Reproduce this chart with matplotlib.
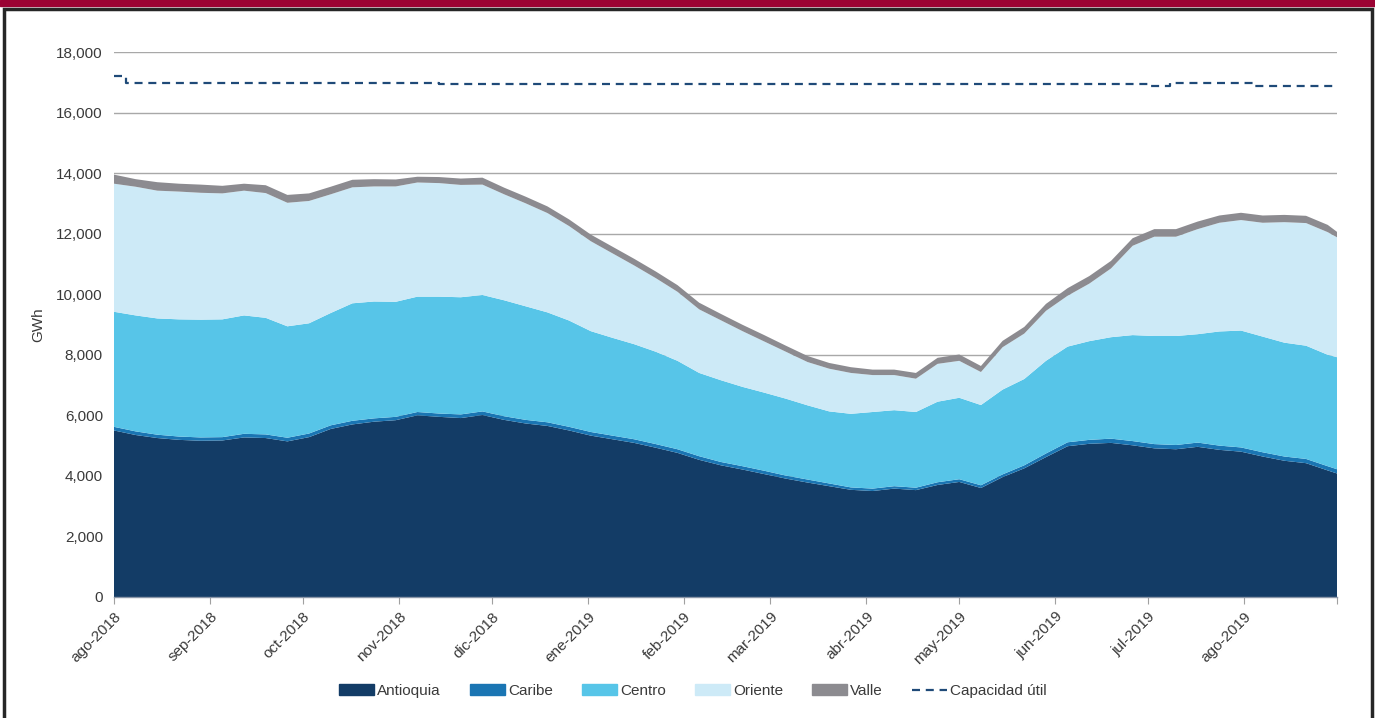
import numpy as np
import pandas as pd
import matplotlib
matplotlib.use("Agg")
import matplotlib.pyplot as plt
from matplotlib.patches import Rectangle
from matplotlib.lines import Line2D
from matplotlib.ticker import FuncFormatter

plt.rcParams['font.family'] = ['Liberation Sans', 'DejaVu Sans']

# weekly samples from 1-ago-2018, plus the last day
dates = list(pd.date_range('2018-08-01', periods=57, freq='7D')) + [pd.Timestamp('2019-08-31')]

antioquia = [5500, 5350, 5250, 5190, 5160, 5170, 5270, 5250, 5140, 5280,
             5550, 5700, 5790, 5840, 6000, 5950, 5910, 6010, 5850, 5730,
             5650, 5500, 5330, 5210, 5090, 4930, 4760, 4530, 4350, 4210,
             4060, 3910, 3780, 3660, 3540, 3500, 3580, 3530, 3700, 3800,
             3600, 3960, 4250, 4620, 4980, 5060, 5090, 5010, 4910, 4880,
             4960, 4860, 4800, 4640, 4500, 4420, 4180, 4080]
caribe = [120, 120, 110, 110, 110, 110, 120, 120, 120, 120,
          120, 120, 110, 110, 110, 110, 120, 120, 120, 120,
          120, 120, 120, 120, 120, 120, 120, 120, 110, 110,
          110, 100, 100, 90, 80, 80, 80, 80, 90, 90,
          90, 90, 100, 120, 130, 130, 140, 140, 140, 140,
          140, 140, 140, 140, 140, 140, 140, 140]
centro = [3800, 3830, 3840, 3870, 3890, 3890, 3910, 3850, 3680, 3640,
          3710, 3880, 3860, 3800, 3810, 3860, 3870, 3845, 3830, 3750,
          3630, 3510, 3330, 3230, 3140, 3050, 2920, 2750, 2700, 2620,
          2580, 2540, 2450, 2380, 2430, 2530, 2510, 2500, 2660, 2690,
          2650, 2800, 2850, 3060, 3160, 3260, 3350, 3500, 3570, 3600,
          3580, 3770, 3860, 3820, 3760, 3740, 3680, 3700]
oriente = [4230, 4250, 4220, 4220, 4190, 4160, 4120, 4120, 4080, 4040,
           3920, 3830, 3800, 3810, 3770, 3750, 3710, 3645, 3500, 3400,
           3280, 3120, 2970, 2790, 2600, 2430, 2280, 2100, 1980, 1840,
           1690, 1550, 1430, 1410, 1350, 1220, 1160, 1100, 1250, 1220,
           1090, 1400, 1500, 1650, 1680, 1900, 2270, 2950, 3280, 3280,
           3470, 3590, 3650, 3760, 3980, 4050, 4050, 3960]
valle = [300, 250, 280, 260, 270, 250, 230, 260, 260, 250,
         250, 250, 240, 230, 190, 200, 210, 230, 220, 220,
         220, 220, 220, 220, 220, 220, 220, 220, 210, 210,
         210, 200, 200, 190, 190, 180, 180, 190, 200, 210,
         200, 210, 220, 230, 250, 250, 250, 250, 250, 250,
         250, 240, 240, 240, 240, 240, 240, 180]

# capacidad util: change dates and values
cap_dates = pd.to_datetime(['2018-08-01', '2018-08-05', '2018-11-14', '2019-07-01',
                            '2019-07-08', '2019-08-04', '2019-08-31'])
cap_vals = [17200, 16980, 16950, 16880, 16990, 16890, 16890]

month_labels = ['ago-2018', 'sep-2018', 'oct-2018', 'nov-2018', 'dic-2018', 'ene-2019',
                'feb-2019', 'mar-2019', 'abr-2019', 'may-2019', 'jun-2019', 'jul-2019',
                'ago-2019']

names = ['Antioquia', 'Caribe', 'Centro', 'Oriente', 'Valle']
colors = ['#133c66', '#1a75b3', '#57c5e8', '#cdeaf7', '#8c8b90']
txt = '#3a3a3a'
dash = (0, (3.6, 2.6))

fig = plt.figure(figsize=(13.75, 7.18), dpi=100)
ax = fig.add_axes([114 / 1375, 1 - 597 / 718, (1337 - 114) / 1375, (597 - 52) / 718])

ax.stackplot(dates, antioquia, caribe, centro, oriente, valle,
             colors=colors, labels=names, linewidth=0, zorder=2)
ax.plot(cap_dates, cap_vals, color='#1f4a78', lw=1.6, ls=dash,
        drawstyle='steps-post', zorder=3)

ax.set_xlim(pd.Timestamp('2018-08-01'), pd.Timestamp('2019-08-31'))
ax.set_ylim(0, 18000)
ax.set_yticks(np.arange(0, 18001, 2000))
ax.yaxis.set_major_formatter(FuncFormatter(lambda v, p: f'{v:,.0f}'))
ax.grid(axis='y', color='#a8a8a8', lw=1, zorder=0)
ax.set_axisbelow(True)

ticks = list(pd.date_range('2018-08-01', periods=13, freq='MS')) + [pd.Timestamp('2019-08-31')]
ax.set_xticks(ticks)
ax.set_xticklabels(month_labels + [''], rotation=45, ha='right', rotation_mode='anchor')

for s in ['top', 'right', 'left']:
    ax.spines[s].set_visible(False)
ax.spines['bottom'].set_color('#8a96a8')
ax.spines['bottom'].set_linewidth(1)
ax.spines['bottom'].set_zorder(4)
ax.tick_params(axis='y', length=0, labelsize=11, labelcolor=txt, pad=8)
ax.tick_params(axis='x', length=5, color='#a0a0a0', labelsize=11, labelcolor=txt, pad=4)
ax.set_ylabel('GWh', fontsize=11, color=txt, labelpad=8)

handles = [Rectangle((0, 0), 1, 1, color=c) for c in colors]
handles.append(Line2D([0], [0], color='#1f4a78', lw=1.6, ls=dash))
fig.legend(handles, names + ['Capacidad útil'], loc='center', ncol=6,
           bbox_to_anchor=(0.504, 1 - 691 / 718), frameon=False, fontsize=11,
           handlelength=2.3, handleheight=0.7, handletextpad=0.2, columnspacing=1.9,
           labelcolor=txt)

# header band and frame
fig.patches.append(Rectangle((0, 1 - 6 / 718), 1, 6 / 718, transform=fig.transFigure,
                             color='#9b0233', zorder=0))
fig.patches.append(Rectangle((3.5 / 1375, -0.01), (1372 - 3.5) / 1375, (718 - 8.5) / 718 + 0.01,
                             transform=fig.transFigure, fill=False,
                             edgecolor='#262626', lw=2.5, zorder=0))

fig.savefig('out.png', dpi=100)
